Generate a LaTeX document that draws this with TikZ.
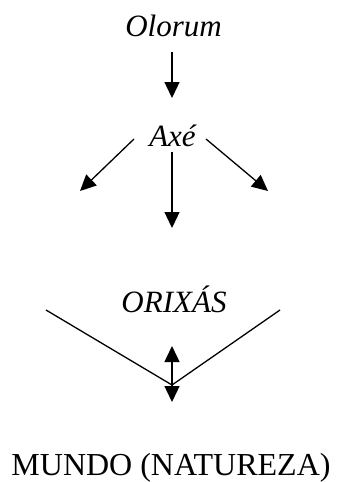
\documentclass[tikz,border=0pt]{standalone}
\usepackage{fontspec}
\setmainfont{Liberation Serif}
\usetikzlibrary{arrows.meta}
\begin{document}
\begin{tikzpicture}[x=1pt,y=-1pt,
  lbl/.style={inner sep=0pt,anchor=base,font=\fontsize{31}{36}\selectfont},
  con/.style={line width=1.3pt,-{Triangle[length=16pt,width=15pt]}},
  plain/.style={line width=1.3pt}]
\useasboundingbox (0,0) rectangle (337,482);
\node[lbl] (olorum) at (173.5,36) {\itshape Olorum};
\node[lbl] (axe) at (172.5,146) {\itshape Axé};
\node[lbl] (orixas) at (174,312) {\itshape ORIXÁS};
\node[lbl,font=\fontsize{32}{36}\selectfont] (mundo) at (171,475) {MUNDO (NATUREZA)};
\coordinate (a1s) at (172,52);
\coordinate (a1e) at (172,98);
\draw[con] (a1s) -- (a1e);
\coordinate (ls) at (134,139);
\coordinate (le) at (80,191);
\draw[con] (ls) -- (le);
\coordinate (ms) at (172,152);
\coordinate (me) at (172,228);
\draw[con] (ms) -- (me);
\coordinate (rs) at (206,139);
\coordinate (re) at (268,191);
\draw[con] (rs) -- (re);
\coordinate (vl) at (46,310);
\coordinate (vr) at (280,310);
\coordinate (vb) at (172,385);
\draw[plain] (vl) -- (vb) -- (vr);
\coordinate (du) at (172,346);
\coordinate (dd) at (172,402);
\draw[line width=1.3pt,{Triangle[length=16pt,width=15pt]}-{Triangle[length=16pt,width=15pt]}] (du) -- (dd);
\end{tikzpicture}
\end{document}
